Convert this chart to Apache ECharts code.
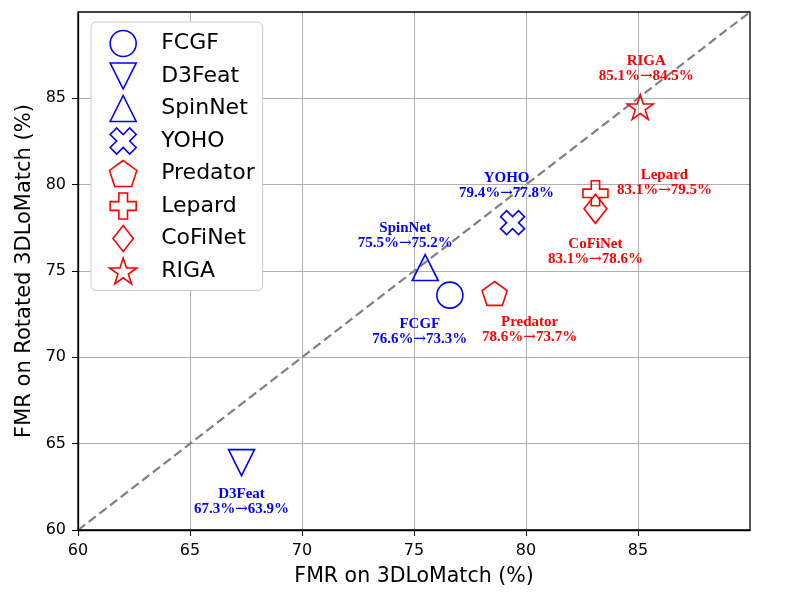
<!DOCTYPE html>
<html>
<head>
<meta charset="utf-8">
<script src="https://cdn.jsdelivr.net/npm/echarts@6/dist/echarts.min.js"></script>
<style>
  html, body { margin: 0; padding: 0; background: #fff; }
  #chart { width: 789px; height: 592px; }
</style>
</head>
<body>
<div id="chart"></div>
<script>
// data
const methods = ['FCGF', 'D3Feat', 'SpinNet', 'YOHO', 'Predator', 'Lepard', 'CoFiNet', 'RIGA'];
const fmrLoMatch = [76.6, 67.3, 75.5, 79.4, 78.6, 83.1, 83.1, 85.1];
const fmrRotated = [73.6, 63.9, 75.2, 77.8, 73.7, 79.5, 78.6, 84.5];   // where the markers sit
const rotatedText = [73.3, 63.9, 75.2, 77.8, 73.7, 79.5, 78.6, 84.5];  // what the annotations say
const diagonal = [60, 90];
const xTicks = [60, 65, 70, 75, 80, 85];
const yTicks = [60, 65, 70, 75, 80, 85];

const BLUE = '#0000ff';
const RED = '#ff0000';

// marker shapes (matplotlib-like)
function polyPath(n, rOuter, rInner) {
  const pts = [];
  const k = rInner ? n * 2 : n;
  for (let i = 0; i < k; i++) {
    const a = Math.PI / 2 + i * 2 * Math.PI / k;
    const r = rInner && i % 2 ? rInner : rOuter;
    pts.push((r * Math.cos(a)).toFixed(3) + ',' + (-r * Math.sin(a)).toFixed(3));
  }
  return 'path://M' + pts.join('L') + 'Z';
}
const shapes = {
  FCGF: { symbol: 'circle', size: 26, color: BLUE },
  D3Feat: { symbol: 'path://M-1,-1L1,-1L0,1Z', size: 26, color: BLUE },
  SpinNet: { symbol: 'path://M0,-1L1,1L-1,1Z', size: 26, color: BLUE },
  YOHO: { symbol: 'path://M-1,-2L0,-1L1,-2L2,-1L1,0L2,1L1,2L0,1L-1,2L-2,1L-1,0L-2,-1Z', size: 24, color: BLUE },
  Predator: { symbol: polyPath(5, 1), size: 25, color: RED },
  Lepard: { symbol: 'path://M-1,-3L1,-3L1,-1L3,-1L3,1L1,1L1,3L-1,3L-1,1L-3,1L-3,-1L-1,-1Z', size: 25, color: RED },
  CoFiNet: { symbol: 'path://M0,-14L11,0L0,14L-11,0Z', size: 29, color: RED },
  RIGA: { symbol: polyPath(5, 1, 0.381966), size: 26, color: RED }
};

// annotation offsets from each marker (px)
const labelOffsets = {
  FCGF: [-30, 36],
  D3Feat: [0, 39],
  SpinNet: [-20, -32],
  YOHO: [-6, -37],
  Predator: [35, 36],
  Lepard: [69, -11],
  CoFiNet: [0, 43],
  RIGA: [6, -38]
};

const chart = echarts.init(document.getElementById('chart'));

const series = [{
  type: 'line',
  data: [[diagonal[0], diagonal[0]], [diagonal[1], diagonal[1]]],
  symbol: 'none',
  silent: true,
  z: 1,
  lineStyle: { color: '#808080', width: 2.2, type: [9, 4.5] }
}];

methods.forEach((name, i) => {
  const s = shapes[name];
  series.push({
    name: name,
    type: 'scatter',
    data: [[fmrLoMatch[i], fmrRotated[i]]],
    symbol: s.symbol,
    symbolSize: s.size,
    symbolKeepAspect: true,
    z: 3,
    itemStyle: { color: 'none', borderColor: s.color, borderWidth: 1.6, opacity: 1 },
    label: {
      show: true,
      position: 'inside',
      offset: labelOffsets[name],
      formatter: '{t|' + name + '}\n{t|' + fmrLoMatch[i].toFixed(1) + '%}{a|\u2192}{t|' + rotatedText[i].toFixed(1) + '%}',
      align: 'center',
      rich: {
        t: {
          color: s.color, fontFamily: 'Liberation Serif', fontWeight: 'bold',
          fontSize: 15, lineHeight: 15
        },
        a: {
          color: s.color, fontFamily: 'DejaVu Serif', fontWeight: 'normal',
          fontSize: 15, lineHeight: 15
        }
      }
    },
    emphasis: { disabled: true }
  });
});

const option = {
  animation: false,
  backgroundColor: '#fff',
  grid: {
    left: 78, right: 39, top: 12, bottom: 60,
    show: true, borderColor: '#000', borderWidth: 1.3, z: 5
  },
  legend: {
    orient: 'vertical',
    left: 91,
    top: 22,
    data: methods,
    itemWidth: 28,
    itemHeight: 26,
    itemGap: 1.5,
    padding: [6, 8, 4, 16],
    backgroundColor: '#fff',
    borderColor: '#cccccc',
    borderWidth: 1,
    borderRadius: 5,
    itemStyle: { borderWidth: 1.6 },
    textStyle: {
      fontFamily: 'DejaVu Sans',
      fontSize: 22,
      lineHeight: 22,
      color: '#000',
      padding: [0, 0, 0, 19]
    },
    selectedMode: false
  },
  xAxis: {
    type: 'value',
    min: 60, max: 90, interval: 5,
    name: 'FMR on 3DLoMatch (%)',
    nameLocation: 'middle',
    nameGap: 36,
    nameTextStyle: { fontFamily: 'DejaVu Sans', fontSize: 20.5, color: '#000' },
    axisLine: { show: true, lineStyle: { color: '#000', width: 1.3 } },
    axisTick: { show: true, inside: false, length: 6, customValues: xTicks, lineStyle: { color: '#000', width: 1 } },
    axisLabel: {
      fontFamily: 'DejaVu Sans', fontSize: 16, color: '#000', margin: 13,
      customValues: xTicks
    },
    splitLine: { show: true, lineStyle: { color: '#b0b0b0', width: 1 } }
  },
  yAxis: {
    type: 'value',
    min: 60, max: 90, interval: 5,
    name: 'FMR on Rotated 3DLoMatch (%)',
    nameLocation: 'middle',
    nameGap: 36,
    nameTextStyle: { fontFamily: 'DejaVu Sans', fontSize: 21, color: '#000' },
    axisLine: { show: true, lineStyle: { color: '#000', width: 1.3 } },
    axisTick: { show: true, inside: false, length: 6, customValues: yTicks, lineStyle: { color: '#000', width: 1 } },
    axisLabel: {
      fontFamily: 'DejaVu Sans', fontSize: 16, color: '#000', margin: 12,
      customValues: yTicks
    },
    splitLine: { show: true, lineStyle: { color: '#b0b0b0', width: 1 } }
  },
  series: series
};

chart.setOption(option);
</script>
</body>
</html>
